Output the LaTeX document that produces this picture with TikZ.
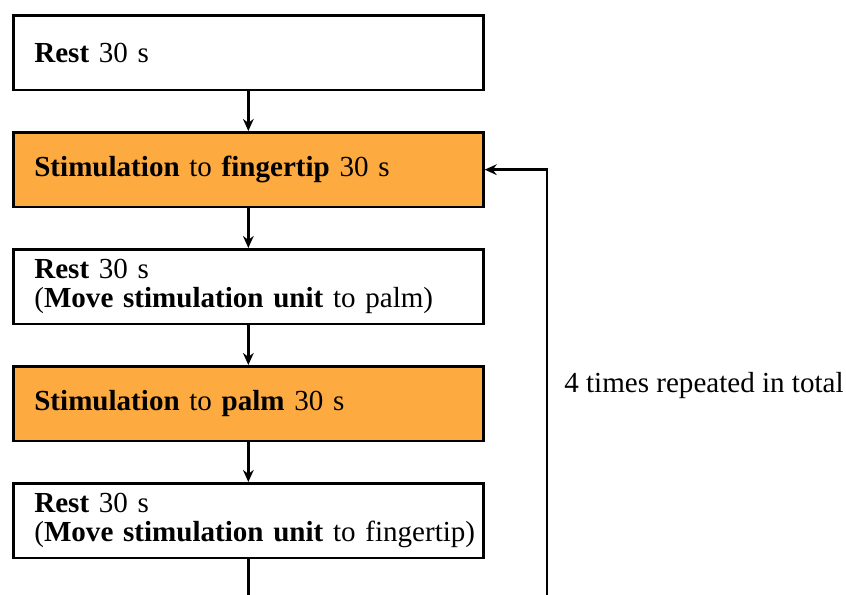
\documentclass[tikz,border=0pt]{standalone}
\usepackage{fontspec}
\setmainfont{LiberationSerif}[Extension=.ttf,UprightFont=*-Regular,BoldFont=*-Bold,ItalicFont=*-Italic,BoldItalicFont=*-BoldItalic]
\usetikzlibrary{positioning, arrows.meta}
\definecolor{stimorange}{RGB}{253,170,65}
\newcommand\boxfont{\fontsize{21.8}{21.4}\selectfont}
\tikzset{
    node distance=29.75pt, % Gap between two boxes of the schedule
    every edge/.style={ % Connectors between the steps
        draw,
        -{Stealth[length=9pt,width=8pt]},
        line width=2pt
    }
}

\begin{document}
\begin{tikzpicture}[x=0.75pt,y=-0.75pt,line width=2pt]
    \tikzset{
        step box/.style={draw,rectangle,fill=white,minimum width=352.5pt,minimum height=56pt,
            inner xsep=15.75pt,text width=321pt,align=left,font=\boxfont},
        stim box/.style={step box,fill=stimorange},
    }
    \useasboundingbox (0,0) rectangle (846,594);
    \clip (0,0) rectangle (846,594);

    \node[step box,anchor=north west] (rest1) at (12,14) {\textbf{Rest} 30 s};
    \node[stim box,below=of rest1] (stimtip) {\textbf{Stimulation} to \textbf{fingertip} 30 s};
    \node[step box,below=of stimtip] (rest2) {\textbf{Rest} 30 s\\(\textbf{Move stimulation unit} to palm)};
    \node[stim box,below=of rest2] (stimpalm) {\textbf{Stimulation} to \textbf{palm} 30 s};
    \node[step box,below=of stimpalm] (rest3) {\textbf{Rest} 30 s\\\mbox{(\textbf{Move stimulation unit} to fingertip)}};

    \draw (rest1) edge (stimtip)
          (stimtip) edge (rest2)
          (rest2) edge (stimpalm)
          (stimpalm) edge (rest3);

    % loop back to the first stimulation
    \coordinate (back) at (547,620);
    \draw[-{Stealth[length=9pt,width=8pt]}] (rest3) |- (back) |- (stimtip);
    \node[anchor=base west,inner sep=0pt,font=\boxfont] (repeat) at (563,392) {4 times repeated in total};
\end{tikzpicture}
\end{document}
